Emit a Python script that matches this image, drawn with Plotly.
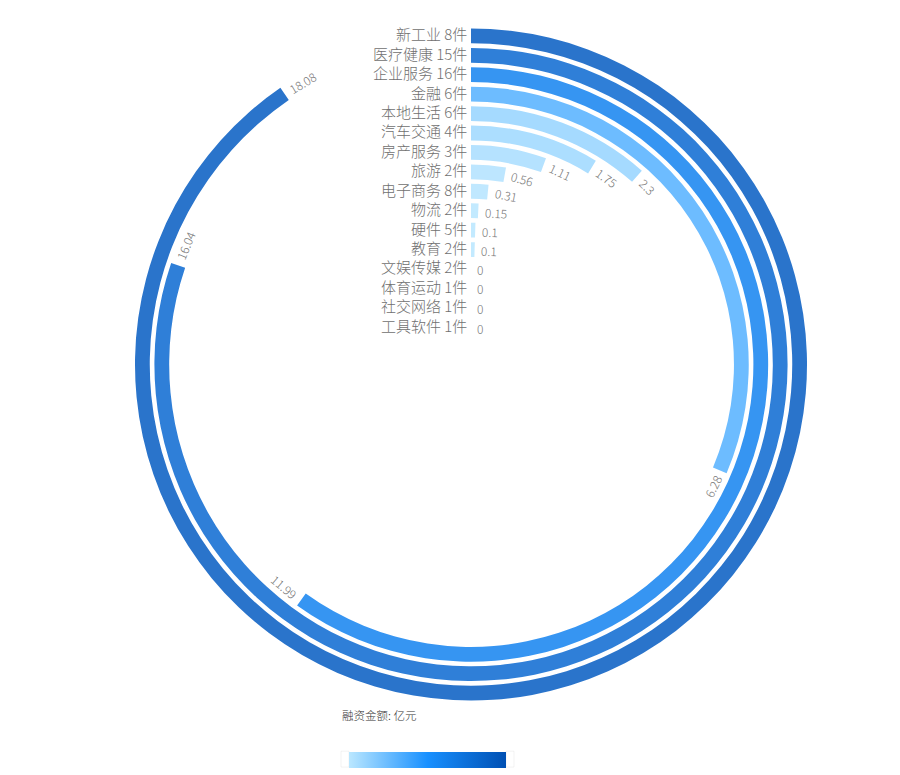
import math
import plotly.graph_objects as go

# ---------------- data ----------------
categories = ['新工业', '医疗健康', '企业服务', '金融', '本地生活', '汽车交通', '房产服务', '旅游',
              '电子商务', '物流', '硬件', '教育', '文娱传媒', '体育运动', '社交网络', '工具软件']
deal_counts = [8, 15, 16, 6, 6, 4, 3, 2, 8, 2, 5, 2, 2, 1, 1, 1]
amounts = [18.08, 16.04, 11.99, 6.28, 2.3, 1.75, 1.11, 0.56, 0.31, 0.15, 0.1, 0.1, 0, 0, 0, 0]
angle_max = 20
legend_title = '融资金额: 亿元'
colorscale = [[0, '#bae7ff'], [0.5, '#1890ff'], [1, '#0050b3']]

# ---------------- geometry ----------------
W, H = 869, 800
CX, CY = 463, 356.5          # polar centre in figure pixels
RPX = 345                    # half size of the polar square
P = 19.45                    # pixels per ring band
PLOT = 2 * RPX
ML, MT = CX - RPX, CY - RPX
MR, MB = W - ML - PLOT, H - MT - PLOT
RMAX = RPX / P
OUTER = 336.5 / P            # outer edge of outermost ring (band units)
THICK = 14.8 / P
GAP = 6
DEG_PER_UNIT = 360 / angle_max
FONT = 'Noto Sans CJK SC'

n = len(categories)
bases = [OUTER - i - THICK for i in range(n)]
centers = [OUTER - i - THICK / 2 for i in range(n)]
thetas = [v * DEG_PER_UNIT / 2 for v in amounts]
widths = [v * DEG_PER_UNIT for v in amounts]

fig = go.Figure()
fig.add_trace(go.Barpolar(
    r=[THICK] * n,
    base=bases,
    theta=thetas,
    width=widths,
    marker=dict(
        color=amounts, colorscale=colorscale, cmin=0, cmax=angle_max,
        opacity=0.85, line=dict(width=0),
        showscale=True,
        colorbar=dict(
            orientation='h', xref='paper', yref='container',
            x=(341 - ML) / PLOT, y=1 - 751.7 / H, xanchor='left', yanchor='middle',
            len=156.7, lenmode='pixels', thickness=16, outlinewidth=0,
            showticklabels=False, ticks='', xpad=0, ypad=0,
        ),
    ),
    hoverinfo='skip',
    showlegend=False,
))

annotations = []

# category labels at the start of each ring
for i, (c, k) in enumerate(zip(categories, deal_counts)):
    rpx = centers[i] * P
    annotations.append(dict(
        x=(CX - 2 - ML) / PLOT, y=1 - (CY - rpx - 2 - MT) / PLOT, xref='paper', yref='paper',
        text=f'{c} {k}件', showarrow=False, xanchor='right', yanchor='middle',
        font=dict(family=FONT, size=15, color='#707070', weight=300),
    ))

# value labels, rotated along the ring
for i, v in enumerate(amounts):
    txt = f'{v:g}'
    rpx = centers[i] * P
    a = v * DEG_PER_UNIT
    tw = sum(3.4 if ch == '.' else 6.8 for ch in txt)
    d = GAP + tw / 2
    ap = a + math.degrees(d / rpx)
    xp = CX + rpx * math.sin(math.radians(ap))
    yp = CY - rpx * math.cos(math.radians(ap))
    ang = (a + (math.degrees(d / rpx) if a > 3 else 0)) % 360
    if 90 < ang < 270:
        ta = ang - 180
    elif ang >= 270:
        ta = ang - 360
    else:
        ta = ang
    annotations.append(dict(
        x=(xp - ML) / PLOT, y=1 - (yp - MT) / PLOT, xref='paper', yref='paper',
        text=txt, showarrow=False, textangle=ta, xanchor='center', yanchor='middle',
        font=dict(family=FONT, size=12, color='#777777', weight=300),
    ))

annotations.append(dict(
    x=(332 - ML) / PLOT, y=1 - (708 - MT) / PLOT, xref='paper', yref='paper',
    text=legend_title, showarrow=False, xanchor='left', yanchor='middle',
    font=dict(family=FONT, size=11.5, color='#333333', weight=300),
))

shapes = []
for x0, x1 in [(333, 341), (498, 506)]:
    shapes.append(dict(
        type='rect', xref='paper', yref='paper',
        x0=(x0 - ML) / PLOT, x1=(x1 - ML) / PLOT,
        y0=1 - (759.7 - MT) / PLOT, y1=1 - (743.7 - MT) / PLOT,
        fillcolor='white', line=dict(color='rgba(0,0,0,0.05)', width=1),
    ))

fig.update_layout(
    width=W, height=H,
    margin=dict(l=ML, r=MR, t=MT, b=MB, autoexpand=False),
    paper_bgcolor='white', plot_bgcolor='white',
    polar=dict(
        domain=dict(x=[0, 1], y=[0, 1]),
        bgcolor='white',
        radialaxis=dict(visible=False, range=[0, RMAX]),
        angularaxis=dict(visible=False, direction='clockwise', rotation=90),
        barmode='overlay',
    ),
    annotations=annotations,
    shapes=shapes,
    font=dict(family=FONT),
)

fig.write_html('out.html')
